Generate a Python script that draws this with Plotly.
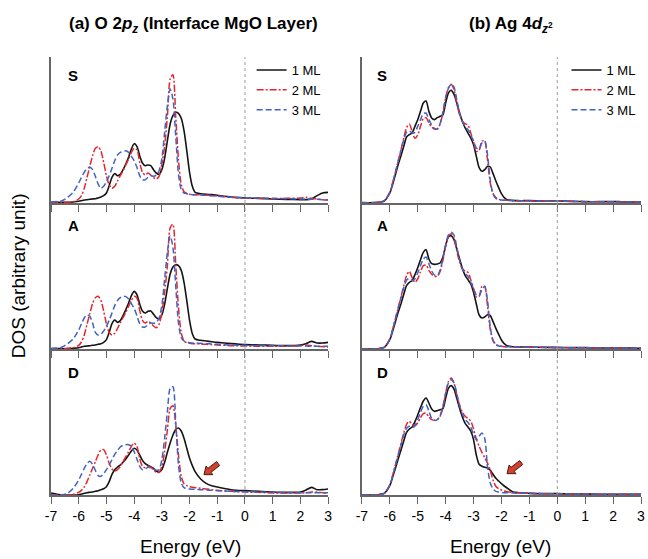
import plotly.graph_objects as go

# ---------------- data (DOS, arbitrary unit) ----------------
energy = [-7.0, -6.6, -6.4, -6.2,
          -6.0, -5.9, -5.8, -5.7, -5.6, -5.5, -5.4, -5.3, -5.2, -5.1,
          -5.0, -4.9, -4.8, -4.7, -4.6, -4.5, -4.4, -4.3, -4.2, -4.1,
          -4.0, -3.9, -3.8, -3.7, -3.6, -3.5, -3.4, -3.3, -3.2, -3.1,
          -3.0, -2.9, -2.8, -2.7, -2.6, -2.5, -2.4, -2.3, -2.2, -2.1,
          -2.0, -1.9, -1.8,
          -1.6, -1.4, -1.2, -1.0,
          -0.5, 0.0, 0.5, 1.0, 1.5, 2.0,
          2.2, 2.4, 2.6, 2.8, 3.0]

series_names = ["1 ML", "2 ML", "3 ML"]
row_labels = ["S", "A", "D"]
x_ticks = [-7, -6, -5, -4, -3, -2, -1, 0, 1, 2, 3]

# (a) O 2pz, interface MgO layer
o_s_1ml = [0.2, 0.2, 0.2, 0.3,
           0.5, 0.7, 0.9, 1.0, 1.1, 1.2, 1.3, 1.5, 1.8, 2.2,
           3.0, 5.2, 7.7, 8.8, 8.2, 8.6, 10.0, 11.7, 13.7, 16.2,
           17.8, 17.0, 14.2, 12.0, 11.2, 11.4, 11.2, 10.0, 9.0, 8.6,
           10.0, 13.4, 18.7, 23.7, 26.2, 27.2, 26.9, 25.4, 21.7, 15.7,
           9.2, 5.0, 3.2,
           2.8, 2.6, 2.5, 2.3,
           1.8, 1.5, 1.4, 1.2, 1.1, 1.0,
           1.0, 1.2, 2.2, 3.0, 3.2]
o_s_2ml = [0.2, 0.2, 0.2, 0.4,
           1.2, 2.2, 4.4, 7.7, 11.0, 14.2, 16.4, 16.9, 15.7, 12.2,
           8.2, 5.4, 4.4, 5.0, 6.6, 8.2, 9.7, 11.4, 13.2, 15.2,
           16.4, 16.0, 12.2, 9.2, 8.4, 9.0, 8.4, 7.6, 7.2, 8.0,
           11.7, 17.0, 26.0, 37.2, 38.5, 26.0, 13.0, 5.5, 3.4, 2.9,
           2.6, 2.5, 2.5,
           2.5, 2.4, 2.2, 2.1,
           1.7, 1.4, 1.4, 1.3, 1.4, 1.5,
           1.7, 1.4, 1.2, 1.0, 0.9]
o_s_3ml = [0.2, 0.7, 1.7, 3.2,
           6.0, 7.7, 9.2, 10.4, 10.7, 10.0, 8.0, 5.7, 4.4, 5.0,
           6.4, 8.2, 10.4, 12.7, 14.4, 15.2, 15.4, 15.7, 15.2, 14.0,
           12.7, 10.7, 8.2, 7.0, 7.0, 7.7, 8.2, 8.0, 8.4, 9.7,
           13.2, 21.2, 29.2, 34.2, 31.2, 20.2, 8.7, 4.0, 3.0, 2.8,
           2.6, 2.5, 2.5,
           2.4, 2.3, 2.2, 2.0,
           1.7, 1.6, 1.5, 1.4, 1.3, 1.2,
           1.2, 1.1, 1.1, 1.0, 1.0]

o_a_1ml = [0.1, 0.1, 0.1, 0.2,
           0.4, 0.6, 0.8, 0.9, 1.0, 1.1, 1.2, 1.4, 1.6, 2.0,
           2.8, 5.0, 7.6, 8.7, 8.0, 8.5, 10.0, 11.8, 13.8, 16.0,
           17.3, 16.3, 13.5, 11.4, 10.8, 11.3, 11.4, 10.4, 9.4, 9.0,
           10.2, 13.4, 18.2, 22.5, 24.6, 25.3, 25.0, 23.6, 20.0, 14.5,
           8.6, 4.6, 3.0,
           2.6, 2.4, 2.2, 2.0,
           1.6, 1.3, 1.2, 1.1, 1.0, 1.2,
           1.6, 2.3, 1.8, 1.8, 2.0]
o_a_2ml = [0.1, 0.1, 0.2, 0.4,
           1.1, 2.1, 4.2, 7.4, 10.6, 13.6, 15.4, 15.8, 14.6, 11.4,
           7.6, 5.0, 4.2, 4.7, 6.2, 7.8, 9.4, 11.0, 12.8, 14.6,
           15.8, 15.3, 11.6, 8.6, 7.8, 8.3, 7.8, 6.9, 6.4, 7.4,
           11.0, 17.0, 25.0, 36.4, 37.4, 25.5, 12.5, 4.8, 2.4, 1.9,
           1.7, 1.6, 1.6,
           1.5, 1.4, 1.3, 1.2,
           1.0, 0.9, 0.8, 0.8, 0.8, 1.0,
           1.2, 1.0, 0.8, 0.7, 0.6]
o_a_3ml = [0.1, 0.6, 1.6, 3.0,
           5.7, 7.6, 9.3, 10.3, 9.8, 7.8, 5.0, 4.2, 4.4, 5.4,
           6.8, 8.6, 10.8, 13.0, 14.6, 15.4, 15.8, 15.7, 15.0, 13.6,
           12.2, 10.0, 7.6, 6.6, 6.6, 7.3, 7.8, 7.7, 8.0, 9.3,
           13.0, 21.0, 29.0, 34.0, 30.5, 19.0, 7.8, 3.4, 2.4, 2.1,
           1.9, 1.8, 1.8,
           1.7, 1.6, 1.5, 1.4,
           1.2, 1.1, 1.0, 1.0, 0.9, 0.9,
           0.9, 0.8, 0.8, 0.8, 0.8]

o_d_1ml = [0.6, 0.0, 0.0, 0.0,
           0.1, 0.3, 0.5, 0.7, 0.8, 0.9, 1.1, 1.3, 1.6, 1.9,
           2.5, 4.0, 6.2, 7.6, 8.4, 9.0, 9.8, 10.8, 12.0, 13.2,
           14.0, 13.5, 12.0, 10.4, 9.4, 8.9, 8.5, 8.0, 7.2, 6.8,
           7.6, 9.8, 12.8, 15.6, 18.0, 19.6, 20.1, 19.2, 17.0, 14.0,
           11.0, 8.8, 7.0,
           4.8, 3.5, 2.8, 2.4,
           1.6, 1.3, 1.1, 0.9, 0.8, 0.9,
           1.5, 2.3, 1.6, 1.6, 1.8]
o_d_2ml = [0.0, 0.0, 0.0, 0.2,
           0.8, 1.4, 2.4, 4.0, 6.0, 8.0, 10.0, 12.0, 13.5, 13.6,
           12.0, 9.5, 7.8, 7.2, 7.6, 8.6, 10.0, 11.5, 13.0, 14.6,
           15.6, 14.6, 11.0, 8.6, 8.2, 8.6, 8.4, 7.6, 6.8, 6.8,
           8.6, 13.0, 19.5, 26.0, 26.8, 21.0, 12.0, 5.6, 3.4, 2.8,
           2.5, 2.3, 2.2,
           2.0, 1.8, 1.6, 1.4,
           1.1, 0.9, 0.8, 0.6, 0.6, 0.6,
           0.7, 0.9, 0.9, 0.7, 0.6]
o_d_3ml = [0.0, 0.0, 0.5, 2.0,
           4.5, 6.2, 8.0, 9.4, 10.1, 9.2, 7.4, 5.8, 5.6, 6.4,
           7.6, 9.0, 10.6, 12.2, 13.4, 14.4, 14.9, 15.1, 15.1, 14.6,
           13.0, 10.8, 8.6, 7.6, 7.8, 8.3, 8.2, 7.8, 7.4, 7.6,
           10.6, 17.0, 25.0, 32.0, 32.5, 22.0, 9.0, 3.6, 2.2, 1.9,
           1.8, 1.7, 1.7,
           1.6, 1.5, 1.4, 1.3,
           1.1, 1.0, 0.9, 0.8, 0.7, 0.7,
           0.7, 0.7, 0.7, 0.7, 0.7]

# (b) Ag 4dz2
ag_s_1ml = [0.1, 0.1, 0.2, 0.6,
            3.0, 5.5, 8.5, 11.5, 14.2, 17.0, 19.8, 20.5, 21.0, 23.0,
            25.0, 27.5, 30.0, 30.6, 27.5, 25.5, 25.0, 25.6, 26.0, 26.4,
            30.0, 33.0, 33.8, 32.6, 30.0, 27.0, 24.5, 22.5, 21.0, 19.5,
            17.5, 14.0, 10.6, 9.5, 10.0, 11.0, 10.8, 8.8, 6.6, 4.6,
            2.8, 1.6, 1.0,
            0.8, 0.7, 0.7, 0.7,
            0.6, 0.6, 0.5, 0.4, 0.4, 0.4,
            0.4, 0.3, 0.3, 0.3, 0.3]
ag_s_2ml = [0.1, 0.1, 0.2, 0.6,
            3.2, 6.0, 9.2, 12.6, 16.0, 19.5, 22.6, 23.7, 21.5, 19.4,
            20.4, 23.0, 25.3, 25.6, 24.0, 22.8, 22.2, 22.2, 23.6, 27.0,
            31.5, 34.6, 35.6, 34.0, 30.0, 26.5, 24.5, 23.8, 23.4, 21.0,
            18.4, 15.5, 15.8, 18.6, 18.6, 13.0, 6.0, 2.8, 1.6, 1.1,
            0.9, 0.8, 0.8,
            0.7, 0.7, 0.7, 0.6,
            0.6, 0.5, 0.5, 0.4, 0.4, 0.4,
            0.3, 0.3, 0.3, 0.3, 0.3]
ag_s_3ml = [0.1, 0.1, 0.2, 0.6,
            3.2, 6.0, 9.2, 12.5, 15.8, 19.0, 21.2, 21.6, 21.0, 21.2,
            23.0, 25.0, 26.8, 27.0, 25.0, 23.4, 22.4, 22.2, 23.8, 27.2,
            31.6, 34.4, 35.6, 34.8, 31.0, 27.0, 24.5, 23.0, 22.0, 20.4,
            18.6, 16.5, 16.2, 18.0, 18.6, 14.5, 6.8, 2.6, 1.4, 1.0,
            0.9, 0.8, 0.8,
            0.7, 0.7, 0.7, 0.6,
            0.6, 0.5, 0.5, 0.4, 0.4, 0.4,
            0.3, 0.3, 0.3, 0.3, 0.3]

ag_a_1ml = [0.0, 0.0, 0.1, 0.5,
            2.8, 5.3, 8.2, 11.0, 13.6, 16.4, 19.0, 20.0, 20.5, 22.3,
            24.4, 26.8, 29.0, 29.8, 27.0, 25.6, 25.4, 25.5, 25.8, 27.5,
            31.0, 33.6, 34.0, 32.8, 30.0, 27.0, 24.2, 22.0, 20.8, 19.5,
            17.0, 13.5, 10.2, 9.3, 9.6, 10.3, 10.0, 8.2, 6.2, 4.4,
            2.7, 1.6, 1.0,
            0.7, 0.6, 0.6, 0.6,
            0.5, 0.5, 0.4, 0.4, 0.3, 0.3,
            0.3, 0.3, 0.3, 0.2, 0.2]
ag_a_2ml = [0.0, 0.0, 0.1, 0.5,
            3.0, 5.8, 9.0, 12.4, 15.6, 19.0, 22.0, 23.3, 21.4, 20.0,
            21.0, 23.2, 25.0, 25.2, 23.6, 22.4, 21.8, 21.8, 23.2, 26.5,
            30.8, 33.8, 34.6, 33.2, 29.5, 26.0, 24.0, 23.4, 23.0, 20.8,
            18.2, 15.6, 15.8, 18.8, 18.8, 13.0, 5.8, 2.6, 1.4, 1.0,
            0.8, 0.7, 0.7,
            0.6, 0.6, 0.6, 0.5,
            0.5, 0.4, 0.4, 0.4, 0.3, 0.3,
            0.3, 0.3, 0.2, 0.2, 0.2]
ag_a_3ml = [0.0, 0.0, 0.1, 0.5,
            3.0, 5.8, 9.0, 12.3, 15.4, 18.4, 20.6, 21.2, 20.6, 21.0,
            22.8, 25.0, 27.0, 27.6, 25.6, 23.4, 22.2, 22.0, 23.6, 27.0,
            31.2, 34.2, 35.0, 34.2, 30.5, 26.6, 24.0, 22.6, 21.8, 20.0,
            18.2, 16.2, 15.9, 17.8, 18.8, 14.6, 6.6, 2.4, 1.2, 0.9,
            0.8, 0.7, 0.7,
            0.6, 0.6, 0.6, 0.5,
            0.5, 0.4, 0.4, 0.4, 0.3, 0.3,
            0.3, 0.3, 0.2, 0.2, 0.2]

ag_d_1ml = [0.0, 0.0, 0.1, 0.5,
            2.8, 5.3, 8.0, 10.8, 13.5, 16.2, 18.8, 19.8, 20.4, 22.0,
            24.0, 26.2, 28.2, 29.1, 27.6, 25.8, 25.1, 25.3, 25.6, 25.9,
            29.0, 32.0, 32.8, 31.8, 29.0, 26.0, 23.4, 21.5, 20.4, 19.2,
            16.6, 12.0, 9.2, 8.6, 8.3, 8.1, 7.4, 6.2, 5.0, 4.2,
            3.4, 2.7, 2.1,
            1.0, 0.7, 0.6, 0.5,
            0.4, 0.4, 0.3, 0.3, 0.2, 0.2,
            0.2, 0.2, 0.2, 0.2, 0.2]
ag_d_2ml = [0.0, 0.0, 0.1, 0.5,
            3.0, 5.8, 9.0, 12.2, 15.4, 18.6, 21.2, 22.1, 21.2, 20.8,
            21.6, 23.2, 24.4, 24.6, 23.4, 22.6, 22.4, 22.6, 23.6, 26.0,
            30.5, 34.0, 35.1, 33.6, 30.0, 27.0, 24.8, 23.6, 23.0, 22.2,
            19.8, 16.8, 14.6, 12.8, 11.2, 9.6, 7.4, 4.4, 2.6, 1.9,
            1.5, 1.2, 1.0,
            0.8, 0.7, 0.6, 0.5,
            0.4, 0.4, 0.3, 0.3, 0.2, 0.2,
            0.2, 0.2, 0.2, 0.2, 0.2]
ag_d_3ml = [0.0, 0.0, 0.1, 0.5,
            3.0, 5.7, 8.8, 12.0, 15.0, 18.0, 20.0, 20.6, 20.2, 20.8,
            22.6, 24.8, 26.6, 27.1, 25.2, 23.0, 22.4, 22.6, 23.8, 26.6,
            30.5, 33.6, 34.6, 33.6, 30.4, 26.8, 24.2, 22.6, 21.8, 20.4,
            18.2, 16.6, 17.6, 18.6, 17.0, 8.5, 3.6, 1.8, 1.1, 0.9,
            0.8, 0.7, 0.7,
            0.6, 0.5, 0.5, 0.5,
            0.4, 0.4, 0.3, 0.3, 0.2, 0.2,
            0.2, 0.2, 0.2, 0.2, 0.2]

panel_data = {
    (1, 1): [o_s_1ml, o_s_2ml, o_s_3ml],
    (2, 1): [o_a_1ml, o_a_2ml, o_a_3ml],
    (3, 1): [o_d_1ml, o_d_2ml, o_d_3ml],
    (1, 2): [ag_s_1ml, ag_s_2ml, ag_s_3ml],
    (2, 2): [ag_a_1ml, ag_a_2ml, ag_a_3ml],
    (3, 2): [ag_d_1ml, ag_d_2ml, ag_d_3ml],
}

# ---------------- styling / layout ----------------
W, H = 648, 559
ML, MR, MT, MB = 51, 3, 57, 64
PW, PH = W - ML - MR, H - MT - MB


def fx(px):
    return (px - ML) / PW


def fy(py):
    return (H - MB - py) / PH


FONT = "Liberation Sans, Arial, sans-serif"
AXC = "#666666"
line_styles = [
    dict(color="#141414", width=1.6, dash="solid"),
    dict(color="#e3262e", width=1.5, dash="7px,2px,2px,2px"),
    dict(color="#4063c4", width=1.5, dash="6px,3px"),
]
col_dom = {1: [0.0, fx(330)], 2: [fx(364), 1.0]}
row_dom = {1: [2 / 3, 1.0], 2: [1 / 3, 2 / 3], 3: [0.0, 1 / 3]}
YMAX = 43.8

fig = go.Figure()
layout = dict(
    width=W, height=H,
    margin=dict(l=ML, r=MR, t=MT, b=MB),
    paper_bgcolor="white", plot_bgcolor="white",
    font=dict(family=FONT, color="black"),
    showlegend=True,
)
shapes = []
annotations = []

for (row, col), series in panel_data.items():
    i = (row - 1) * 2 + col
    xa = "x" if i == 1 else f"x{i}"
    ya = "y" if i == 1 else f"y{i}"
    for name, vals, st in zip(series_names, series, line_styles):
        fig.add_trace(go.Scatter(
            x=energy, y=vals, mode="lines", name=name,
            line=dict(color=st["color"], width=st["width"], dash=st["dash"],
                      shape="spline", smoothing=0.7),
            xaxis=xa, yaxis=ya,
            showlegend=(row == 1),
            legend="legend" if col == 1 else "legend2",
            hoverinfo="skip",
        ))
    layout[f"xaxis{i}"] = dict(
        domain=col_dom[col], anchor=ya, range=[-7, 3],
        tickmode="array", tickvals=x_ticks,
        ticktext=[str(t) for t in x_ticks],
        showticklabels=(row == 3),
        ticks="outside", ticklen=7, tickwidth=1.3, tickcolor=AXC,
        showline=True, linecolor=AXC, linewidth=1.5,
        showgrid=False, zeroline=False,
        tickfont=dict(family=FONT, size=14, color="black"),
    )
    layout[f"yaxis{i}"] = dict(
        domain=row_dom[row], anchor=xa, range=[0, YMAX],
        showticklabels=False, ticks="",
        showline=True, linecolor=AXC, linewidth=1.5,
        showgrid=False, zeroline=False,
    )
    shapes.append(dict(type="line", xref=xa, yref=f"{ya} domain",
                       x0=0, x1=0, y0=0, y1=1,
                       line=dict(color="#9a9a9a", width=1, dash="dot")))
    label_y = {1: 75, 2: 226, 3: 372}[row]
    label_x = 66 if col == 1 else 377
    annotations.append(dict(
        text=f"<b>{row_labels[row - 1]}</b>", xref="paper", yref="paper",
        x=fx(label_x), y=fy(label_y), xanchor="left", yanchor="middle",
        showarrow=False, font=dict(family=FONT, size=15, color="black")))

# titles
annotations.append(dict(
    text="<b>(a) O 2<i>p</i><sub><i>z</i></sub> (Interface MgO Layer)</b>",
    xref="paper", yref="paper", x=fx(194), y=fy(25),
    xanchor="center", yanchor="middle", showarrow=False,
    font=dict(family=FONT, size=17, color="black")))
annotations.append(dict(
    text="<b>(b) Ag 4<i>d</i><sub><i>z</i><sup>2</sup></sub></b>",
    xref="paper", yref="paper", x=fx(514), y=fy(25),
    xanchor="center", yanchor="middle", showarrow=False,
    font=dict(family=FONT, size=17, color="black")))
# axis titles
for cx in (191, 503.5):
    annotations.append(dict(
        text="Energy (eV)", xref="paper", yref="paper", x=fx(cx), y=fy(546),
        xanchor="center", yanchor="middle", showarrow=False,
        font=dict(family=FONT, size=19, color="black")))
annotations.append(dict(
    text="DOS (arbitrary unit)", xref="paper", yref="paper",
    x=fx(18), y=fy(276), xanchor="center", yanchor="middle",
    textangle=-90, showarrow=False,
    font=dict(family=FONT, size=19, color="black")))

# block arrows in the D panels: pixel-sized path anchored at the arrow tip
ARROW_PATH = ("M 0,0 L 8.9,0 L 7.05,2.37 L 15.7,9.16 L 12.6,13.09 "
              "L 3.96,6.3 L 2.1,8.65 Z")
for xa, ya, ex, ey in (("x5", "y5", -1.48, 6.1), ("x6", "y6", -1.80, 6.4)):
    shapes.append(dict(
        type="path", xref=xa, yref=ya,
        xsizemode="pixel", ysizemode="pixel", xanchor=ex, yanchor=ey,
        path=ARROW_PATH, fillcolor="#d2402e",
        line=dict(color="#4a1a12", width=1), layer="above"))

layout["shapes"] = shapes
layout["annotations"] = annotations
leg_common = dict(xref="paper", yref="paper", xanchor="left", yanchor="top",
                  bgcolor="rgba(0,0,0,0)", borderwidth=0,
                  font=dict(family=FONT, size=13, color="black"),
                  tracegroupgap=0, itemwidth=30)
layout["legend"] = dict(x=fx(253), y=fy(55), **leg_common)
layout["legend2"] = dict(x=fx(570), y=fy(55), **leg_common)

fig.update_layout(**layout)
fig.write_html(
    "out.html",
    config={"displayModeBar": False},
    post_script="document.body.style.margin='0px';"
                "document.body.style.overflow='hidden';",
)
